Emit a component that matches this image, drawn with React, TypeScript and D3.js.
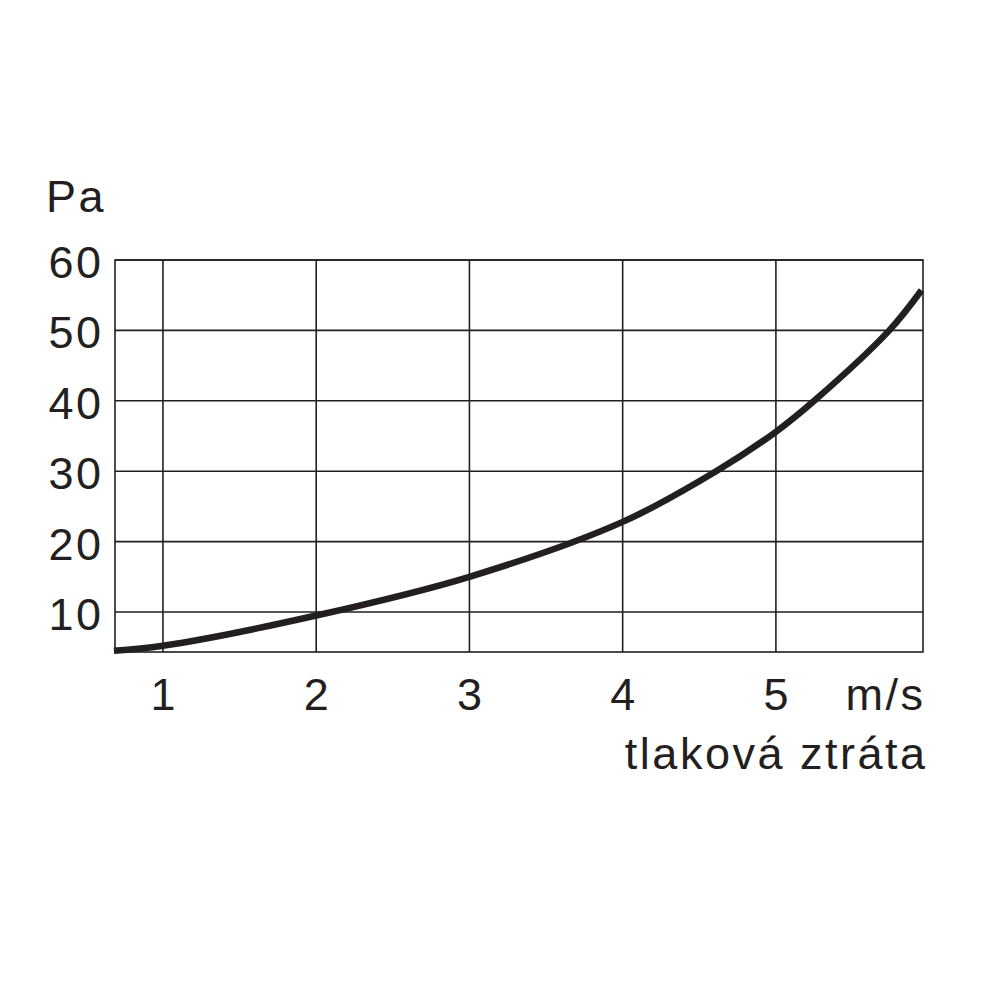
import React from "react";
import * as d3 from "d3";

const speedValues = [0.68, 1, 2, 3, 4, 4.61, 5, 5.25, 5.74, 5.95];
const pressureValues = [4.5, 5.2, 9.5, 15, 22.8, 30, 35.6, 40, 50, 55.7];
const xTicks = [1, 2, 3, 4, 5];
const yTicks = [10, 20, 30, 40, 50, 60];
const xUnit = "m/s";
const yUnit = "Pa";
const caption = "tlaková ztráta";

const X0 = 0.687, X1 = 5.96, Y0 = 4.32, Y1 = 60;

export default function App() {
  const x = d3.scaleLinear().domain([X0, X1]).range([115, 923]);
  const y = d3.scaleLinear().domain([Y0, Y1]).range([652, 260]);
  const pts: [number, number][] = speedValues.map((v, i) => [v, pressureValues[i]]);
  const line = d3
    .line<[number, number]>()
    .x((d) => x(d[0]))
    .y((d) => y(d[1]))
    .curve(d3.curveCatmullRom.alpha(0.5));
  const font = "'Liberation Sans', Arial, sans-serif";
  const ink = "#231f20";
  const ls = 2.5;
  return (
    <svg width={1000} height={1000} style={{ position: "absolute", left: 0, top: 0, background: "#fff" }}>
      <g stroke={ink} strokeWidth={1.6} fill="none">
        {yTicks.map((t) => (
          <line key={"h" + t} x1={x(X0)} x2={x(X1)} y1={y(t)} y2={y(t)} />
        ))}
        {xTicks.map((t) => (
          <line key={"v" + t} x1={x(t)} x2={x(t)} y1={y(Y0)} y2={y(Y1)} />
        ))}
        <rect x={x(X0)} y={y(Y1)} width={x(X1) - x(X0)} height={y(Y0) - y(Y1)} />
      </g>
      <path d={line(pts) || ""} fill="none" stroke={ink} strokeWidth={6.5} strokeLinecap="butt" />
      <g fill={ink} fontFamily={font} fontSize={45} letterSpacing={ls}>
        {yTicks.map((t) => (
          <text key={"yl" + t} x={101 + ls} y={y(t) + 18} textAnchor="end">
            {t}
          </text>
        ))}
        {xTicks.map((t) => (
          <text key={"xl" + t} x={x(t) + ls / 2} y={710} textAnchor="middle">
            {t}
          </text>
        ))}
        <text x={46} y={212}>{yUnit}</text>
        <text x={923 + ls} y={710} textAnchor="end">{xUnit}</text>
        <text x={925 + ls} y={769} textAnchor="end">{caption}</text>
      </g>
    </svg>
  );
}
